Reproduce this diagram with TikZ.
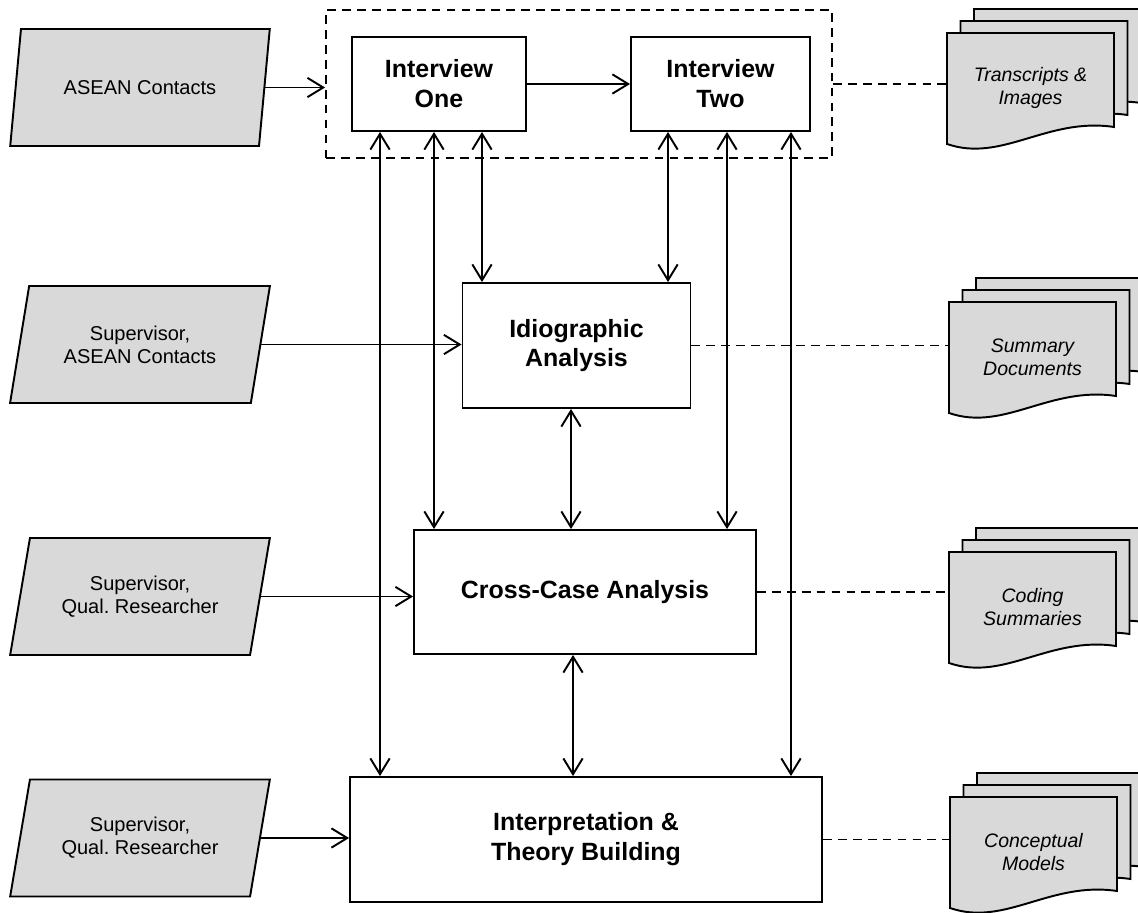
\documentclass[tikz,border=0pt]{standalone}
\usepackage{fontspec}
\setmainfont{Liberation Sans}
\usepackage{xcolor}
\usepackage{tikz}
\usetikzlibrary{shapes.geometric, arrows.meta, calc, positioning}

\definecolor{docgray}{RGB}{217,217,217}

\begin{document}
\begin{tikzpicture}[
    x=0.02cm, y=-0.02cm,
    para/.style={draw, trapezium, trapezium left angle=74, trapezium right angle=106,
        trapezium stretches=true, fill=docgray, line width=1.1pt,
        minimum width=5.2cm, minimum height=2.34cm, align=center,
        font=\fontsize{11.4}{13}\selectfont},
    stage/.style={draw, rectangle, line width=1.1pt, align=center,
        font=\bfseries\fontsize{14.2}{17}\selectfont},
    sheet/.style={draw, fill=docgray, line width=1.1pt},
    doctext/.style={minimum width=3.34cm, align=center,
        font=\itshape\fontsize{11.1}{13}\selectfont},
    link/.style={line width=1.1pt},
    note/.style={dashed, dash pattern=on 5pt off 3.5pt, line width=0.8pt},
    >={Straight Barb[length=9pt, width=11pt]}
]
\useasboundingbox (0,0) rectangle (1138,912);

% Inputs
\node[para] (asean) at (140,87.5) {ASEAN Contacts};
\node[para] (supasean) at (140,344.5) {Supervisor,\\ASEAN Contacts};
\node[para] (supqual_a) at (140,596.5) {Supervisor,\\Qual.\ Researcher};
\node[para] (supqual_b) at (140,838) {Supervisor,\\Qual.\ Researcher};

% Interviews
\node[draw, dashed, dash pattern=on 5pt off 3.5pt, line width=1.1pt,
    minimum width=10.12cm, minimum height=2.96cm] (interviews) at (579,84) {};
\node[stage, minimum width=3.48cm, minimum height=1.88cm] (int_one) at (439,84) {Interview\\One};
\node[stage, minimum width=3.58cm, minimum height=1.88cm] (int_two) at (720.5,84) {Interview\\Two};

% Analysis stages
\node[stage, minimum width=4.56cm, minimum height=2.5cm] (idio) at (576.5,345.5) {Idiographic\\Analysis};
\node[stage, minimum width=6.84cm, minimum height=2.48cm] (cross) at (585,592) {Cross-Case Analysis};
\node[stage, minimum width=9.44cm, minimum height=2.5cm] (interp) at (586,839.5) {Interpretation \&\\Theory Building};

% Document stacks
\foreach \l/\t in {947/33, 949/302, 949/552, 950/797} {
    \foreach \k in {2,1,0} {
        \begin{scope}[shift={(\l+\k*13.5,\t-\k*12)}]
            \draw[sheet] (0,0) -- (167,0) -- (167,94)
                .. controls (100,84) and (55,130) .. (0,111) -- cycle;
        \end{scope}
    }
}
\node[doctext] (transcripts) at (1030.5,88) {Transcripts \&\\Images};
\node[doctext] (summary) at (1032.5,357) {Summary\\Documents};
\node[doctext] (coding) at (1032.5,607) {Coding\\Summaries};
\node[doctext] (concept) at (1033.5,852) {Conceptual\\Models};

% Inputs into stages
\draw[link, ->] (asean.east) -- (asean.east -| interviews.west);
\draw[link, ->] (int_one.east) -- (int_two.west);
\draw[link, ->] (supasean.east) -- (supasean.east -| idio.west);
\draw[link, ->] (supqual_a.east) -- (supqual_a.east -| cross.west);
\draw[link, ->] (supqual_b.east) -- (supqual_b.east -| interp.west);

% Two-way links between stages
\draw[link, <->] ([xshift=-1.18cm]int_one.south) -- ([xshift=-1.18cm]int_one.south |- interp.north);
\draw[link, <->] ([xshift=-0.1cm]int_one.south) -- ([xshift=-0.1cm]int_one.south |- cross.north);
\draw[link, <->] ([xshift=0.86cm]int_one.south) -- ([xshift=0.86cm]int_one.south |- idio.north);
\draw[link, <->] ([xshift=-1.05cm]int_two.south) -- ([xshift=-1.05cm]int_two.south |- idio.north);
\draw[link, <->] ([xshift=0.13cm]int_two.south) -- ([xshift=0.13cm]int_two.south |- cross.north);
\draw[link, <->] ([xshift=1.41cm]int_two.south) -- ([xshift=1.41cm]int_two.south |- interp.north);
\draw[link, <->] ([xshift=-0.11cm]idio.south) -- ([xshift=-0.11cm]idio.south |- cross.north);
\draw[link, <->] ([xshift=-0.24cm]cross.south) -- ([xshift=-0.24cm]cross.south |- interp.north);

% Outputs
\draw[note] (interviews.east) -- (interviews.east -| transcripts.west);
\draw[note] (idio.east) -- (idio.east -| summary.west);
\draw[note] (cross.east) -- (cross.east -| coding.west);
\draw[note] (interp.east) -- (interp.east -| concept.west);

\end{tikzpicture}
\end{document}
